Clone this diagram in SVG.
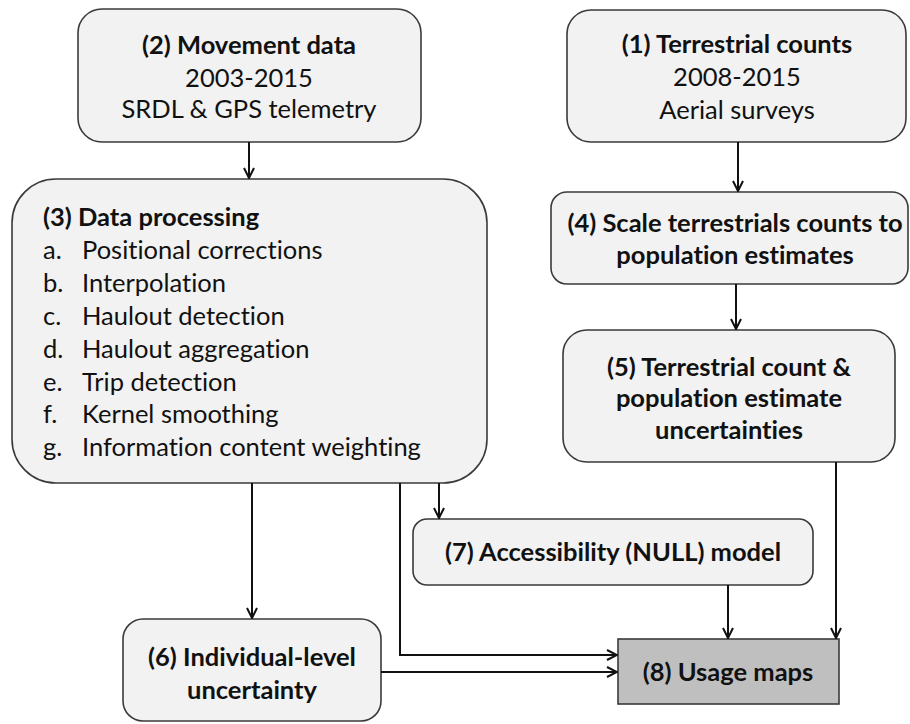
<svg xmlns="http://www.w3.org/2000/svg" width="910" height="724" viewBox="0 0 910 724">
<style>
.box{fill:#f2f2f2;stroke:#3a3a3a;stroke-width:1.6}
.dark{fill:#bfbfbf;stroke:#3a3a3a;stroke-width:1.6}
text{font-family:Lato,"Liberation Sans",sans-serif;font-size:25.5px;fill:#111;font-variant-ligatures:none}
.b{font-weight:bold}
.c{text-anchor:middle}
.con{fill:none;stroke:#111;stroke-width:2}
</style>
<defs>
<marker id="ah" viewBox="0 0 12 12" refX="11" refY="6" markerWidth="12" markerHeight="12" markerUnits="userSpaceOnUse" orient="auto">
<path d="M1,1 L11,6 L1,11" fill="none" stroke="#111" stroke-width="2"/>
</marker>
</defs>
<g id="n2">
<rect class="box" x="78" y="9" width="343" height="133" rx="24"/>
<text class="b c" x="249" y="54">(2) Movement data</text>
<text class="c" x="249" y="87">2003-2015</text>
<text class="c" x="249" y="118">SRDL &amp; GPS telemetry</text>
</g>
<g id="n1">
<rect class="box" x="567" y="10" width="339" height="132" rx="24"/>
<text class="b c" x="737" y="53">(1) Terrestrial counts</text>
<text class="c" x="737" y="86">2008-2015</text>
<text class="c" x="737" y="119">Aerial surveys</text>
</g>
<g id="n4">
<rect class="box" x="551" y="192" width="357" height="92" rx="16"/>
<text class="b c" x="735" y="232">(4) Scale terrestrials counts to</text>
<text class="b c" x="735" y="264">population estimates</text>
</g>
<g id="n5">
<rect class="box" x="563" y="330" width="332" height="132" rx="24"/>
<text class="b c" x="729" y="376">(5) Terrestrial count &amp;</text>
<text class="b c" x="729" y="407">population estimate</text>
<text class="b c" x="729" y="439">uncertainties</text>
</g>
<g id="n3">
<rect class="box" x="12" y="179" width="475" height="304" rx="44"/>
<text class="b" x="43" y="226">(3) Data processing</text>
<text x="43" y="259">a.</text><text x="82" y="259">Positional corrections</text>
<text x="43" y="292">b.</text><text x="82" y="292">Interpolation</text>
<text x="43" y="325">c.</text><text x="82" y="325">Haulout detection</text>
<text x="43" y="358">d.</text><text x="82" y="358">Haulout aggregation</text>
<text x="43" y="391">e.</text><text x="82" y="391">Trip detection</text>
<text x="43" y="423">f.</text><text x="82" y="423">Kernel smoothing</text>
<text x="43" y="456">g.</text><text x="82" y="456">Information content weighting</text>
</g>
<g id="n7">
<rect class="box" x="413" y="519" width="400" height="66" rx="14"/>
<text class="b c" x="613" y="561">(7) Accessibility (NULL) model</text>
</g>
<g id="n6">
<rect class="box" x="123" y="619" width="258" height="102" rx="20"/>
<text class="b c" x="252" y="666">(6) Individual-level</text>
<text class="b c" x="252" y="699">uncertainty</text>
</g>
<g id="n8">
<rect class="dark" x="618" y="639" width="221" height="65"/>
<text class="b c" x="728" y="681">(8) Usage maps</text>
</g>
<g id="connectors">
<path class="con" d="M249,142 V178" marker-end="url(#ah)"/>
<path class="con" d="M738,142 V191" marker-end="url(#ah)"/>
<path class="con" d="M736,284 V329" marker-end="url(#ah)"/>
<path class="con" d="M439,483 V518" marker-end="url(#ah)"/>
<path class="con" d="M252,483 V618" marker-end="url(#ah)"/>
<path class="con" d="M400,483 V655 H617" marker-end="url(#ah)"/>
<path class="con" d="M381,672 H617" marker-end="url(#ah)"/>
<path class="con" d="M728,585 V638" marker-end="url(#ah)"/>
<path class="con" d="M836,462 V638" marker-end="url(#ah)"/>
</g>
</svg>
